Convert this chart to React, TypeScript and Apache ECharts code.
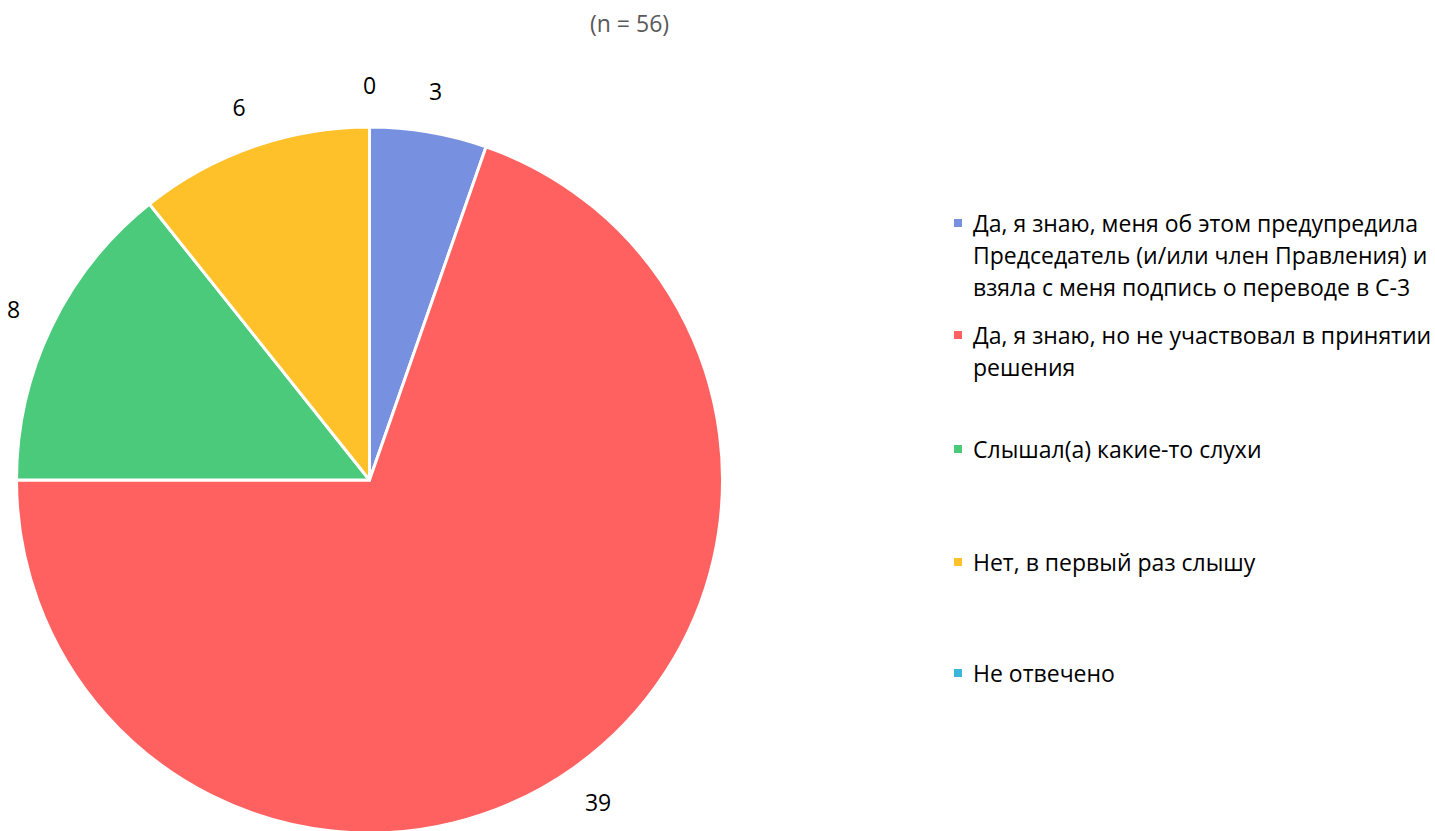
import React, { useEffect, useRef } from "react";
import * as echarts from "echarts";

const categories = [
  "Да, я знаю, меня об этом предупредила Председатель (и/или член Правления) и взяла с меня подпись о переводе в С-3",
  "Да, я знаю, но не участвовал в принятии решения",
  "Слышал(а) какие-то слухи",
  "Нет, в первый раз слышу",
  "Не отвечено",
];
const legendLines = [
  ["Да, я знаю, меня об этом предупредила", "Председатель (и/или член Правления) и", "взяла с меня подпись о переводе в С-3"],
  ["Да, я знаю, но не участвовал в принятии", "решения"],
  ["Слышал(а) какие-то слухи"],
  ["Нет, в первый раз слышу"],
  ["Не отвечено"],
];
const values = [3, 39, 8, 6, 0];
const colors = ["#7890E0", "#FF6161", "#4BCA7B", "#FFC12A", "#3BB5DA"];
const titleText = "(n = 56)";

const FONT = "'Open Sans', 'Noto Sans', sans-serif";
const LH = 32;
const LEGEND_CENTERS = [223, 335, 449, 562, 673];

export default function App() {
  const ref = useRef<HTMLDivElement>(null);
  useEffect(() => {
    document.body.style.margin = "0";
    const chart = echarts.init(ref.current!, null, { renderer: "svg" });
    const data = categories.map((name, i) => ({ name, value: values[i], itemStyle: { color: colors[i] } }));
    const legends = categories.map((name, i) => {
      const n = legendLines[i].length;
      // blank lines above keep the first text line level with the icon
      const text = Array(n - 1).fill("").concat(legendLines[i]).join("\n");
      return {
        data: [name],
        left: 952,
        top: LEGEND_CENTERS[i] - ((2 * n - 1) * LH) / 2,
        padding: 0,
        icon: "rect",
        itemWidth: 10,
        itemHeight: 10,
        selectedMode: false,
        formatter: () => text,
        textStyle: {
          fontFamily: FONT,
          fontSize: 23,
          color: "#000",
          lineHeight: LH,
          padding: [0, 0, 0, 5],
        },
      };
    });
    chart.setOption({
      animation: false,
      title: {
        text: titleText,
        left: 590,
        top: 10,
        padding: 0,
        textStyle: { fontFamily: FONT, fontSize: 23, fontWeight: "normal", color: "#595959", lineHeight: 26 },
      },
      legend: legends,
      series: [
        {
          type: "pie",
          center: [369.5, 480],
          radius: [0, 353],
          startAngle: 90,
          clockwise: true,
          silent: true,
          label: { show: false },
          labelLine: { show: false },
          itemStyle: { borderColor: "#fff", borderWidth: 3 },
          data,
        },
        {
          type: "pie",
          center: [369.5, 480],
          radius: [0, 784],
          startAngle: 90,
          clockwise: true,
          silent: true,
          z: 1,
          itemStyle: { color: "rgba(0,0,0,0)", borderWidth: 0 },
          label: {
            show: true,
            position: "inside",
            formatter: "{c}",
            fontFamily: FONT,
            fontSize: 23,
            color: "#000",
          },
          labelLine: { show: false },
          data: categories.map((name, i) => ({ name, value: values[i] })),
        },
      ],
    });
    return () => chart.dispose();
  }, []);
  return <div ref={ref} style={{ width: 1435, height: 831 }} />;
}
